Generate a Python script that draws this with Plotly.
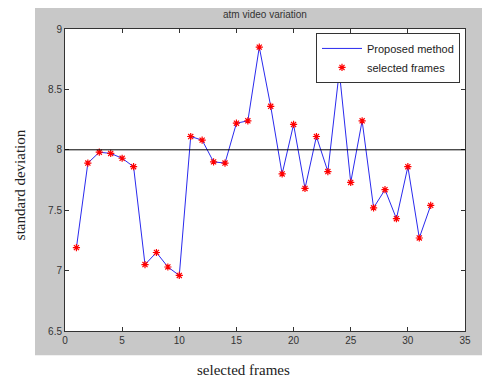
import plotly.graph_objects as go

frames = list(range(1, 33))
std_dev = [7.19, 7.89, 7.98, 7.97, 7.93, 7.86, 7.05, 7.15, 7.03, 6.96,
           8.11, 8.08, 7.90, 7.89, 8.22, 8.24, 8.85, 8.36, 7.80, 8.21,
           7.68, 8.11, 7.82, 8.65, 7.73, 8.24, 7.52, 7.67, 7.43, 7.86,
           7.27, 7.54]
threshold = 8.0
x_ticks = [0, 5, 10, 15, 20, 25, 30, 35]
y_ticks = [6.5, 7, 7.5, 8, 8.5, 9]
y_tick_labels = ["6.5", "7", "7.5", "8", "8.5", "9"]

fig = go.Figure()
fig.add_trace(go.Scatter(x=frames, y=std_dev, mode="lines", name="Proposed method",
                         line=dict(color="#2a2aee", width=1)))
fig.add_trace(go.Scatter(x=frames, y=std_dev, mode="markers", name="selected frames",
                         marker=dict(symbol="asterisk-open", size=6, color="red",
                                     line=dict(color="red", width=1.2))))

shapes = [
    # white strips outside the grey figure box
    dict(type="rect", xref="paper", yref="paper", x0=-0.5, x1=-0.075, y0=-0.5, y1=1.5,
         fillcolor="white", line=dict(width=0), layer="above"),
    dict(type="rect", xref="paper", yref="paper", x0=-0.5, x1=1.5, y0=-0.5, y1=-0.0805,
         fillcolor="white", line=dict(width=0), layer="above"),
    dict(type="line", xref="paper", yref="y", x0=0, x1=1, y0=threshold, y1=threshold,
         line=dict(color="black", width=1)),
]

axis_common = dict(showgrid=False, zeroline=False, showline=True, linecolor="#333",
                   linewidth=1, mirror="ticks", ticks="inside", ticklen=4,
                   tickcolor="#333", tickfont=dict(family="Arial", size=10, color="#333"))

fig.update_layout(
    width=482, height=372,
    margin=dict(l=57, r=25, t=21, b=49),
    paper_bgcolor="#c8c8c8", plot_bgcolor="white",
    shapes=shapes,
    xaxis=dict(range=[0, 35], tickvals=x_ticks, **axis_common),
    yaxis=dict(range=[6.5, 9], tickvals=y_ticks, ticktext=y_tick_labels, **axis_common),
    legend=dict(x=0.9875, y=0.987, xanchor="right", yanchor="top",
                bgcolor="white", bordercolor="#333", borderwidth=1,
                font=dict(family="Arial", size=11, color="#222"),
                tracegroupgap=0, itemwidth=40),
    showlegend=True,
    annotations=[
        dict(text="atm video variation", xref="paper", yref="paper", x=0.5, y=1.047,
             showarrow=False, font=dict(family="Arial", size=10, color="#333"),
             xanchor="center", yanchor="middle"),
        dict(text="selected frames", xref="paper", yref="paper", x=0.445, y=-0.13,
             showarrow=False, font=dict(family="Liberation Serif", size=15, color="#222"),
             xanchor="center", yanchor="middle"),
        dict(text="standard deviation", xref="paper", yref="paper", x=-0.1125, y=0.483,
             showarrow=False, textangle=-90,
             font=dict(family="Liberation Serif", size=15, color="#222"),
             xanchor="center", yanchor="middle"),
    ],
)

fig.write_html("out.html")
